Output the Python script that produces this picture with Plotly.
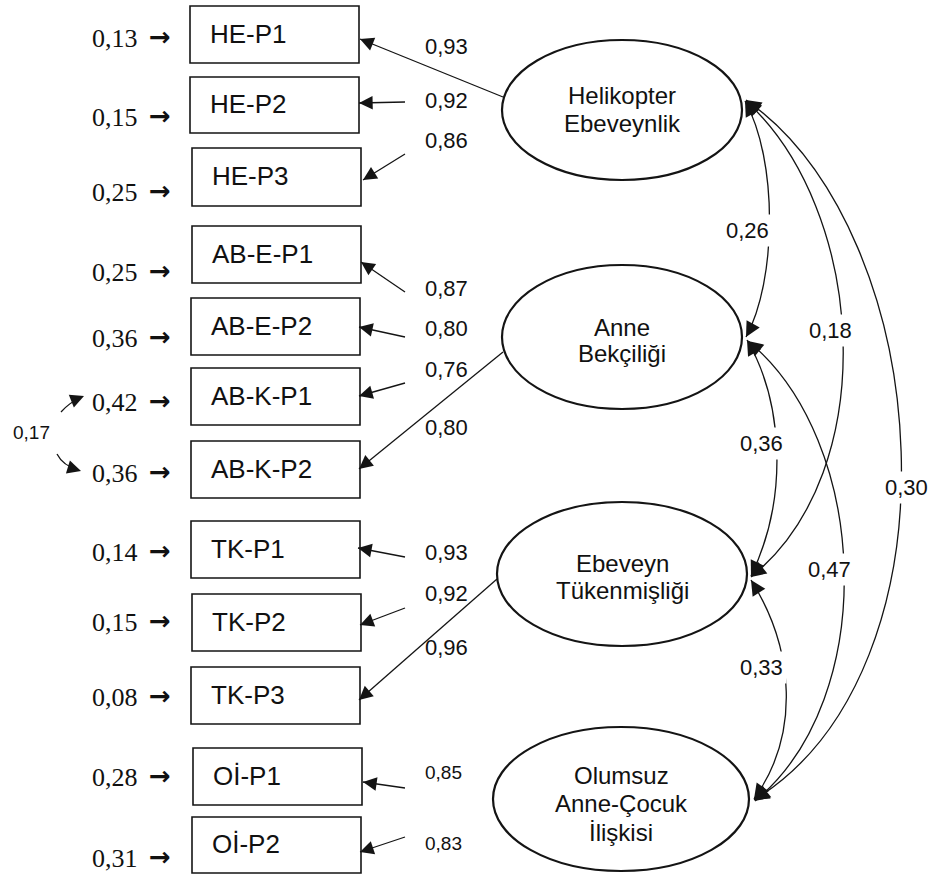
import math
import plotly.graph_objects as go

# ---------------- data ----------------
indicators = ["HE-P1", "HE-P2", "HE-P3", "AB-E-P1", "AB-E-P2", "AB-K-P1", "AB-K-P2",
              "TK-P1", "TK-P2", "TK-P3", "Oİ-P1", "Oİ-P2"]
loadings = [0.93, 0.92, 0.86, 0.87, 0.80, 0.76, 0.80, 0.93, 0.92, 0.96, 0.85, 0.83]
error_vars = [0.13, 0.15, 0.25, 0.25, 0.36, 0.42, 0.36, 0.14, 0.15, 0.08, 0.28, 0.31]
factors = [["Helikopter", "Ebeveynlik"], ["Anne", "Bekçiliği"],
           ["Ebeveyn", "Tükenmişliği"], ["Olumsuz", "Anne-Çocuk", "İlişkisi"]]
corr_pairs = [(0, 1), (0, 2), (0, 3), (1, 2), (1, 3), (2, 3)]
corr_values = [0.26, 0.18, 0.30, 0.36, 0.47, 0.33]
err_cov_value = 0.17


def fmt(v):
    return f"{v:.2f}".replace(".", ",")


# ---------------- layout geometry (pixels) ----------------
W, H = 931, 874
LINE = "#141414"
box_x0 = [190, 190, 192, 192, 191, 191, 191, 191, 192, 191, 193, 192]
box_y = [(6, 63), (77, 133), (148, 206), (226, 283), (298, 355), (368, 425), (441, 498),
         (521, 578), (594, 651), (667, 724), (748, 805), (817, 873)]
box_w = 169
err_label_y = [38, 117, 192, 272, 338, 402, 473, 552, 622, 697, 777, 858]
load_tail = [(503, 97), (405, 102), (405, 154), (405, 292), (405, 337), (405, 383), (503, 352),
             (405, 557), (405, 608), (497, 579), (405, 788), (405, 837)]
load_head = [(360, 39), (359, 103), (363, 180), (361, 262), (359, 327), (359, 396), (359, 469),
             (358, 548), (360, 625), (359, 700), (363, 782), (360, 852)]
load_label_pos = [(446, 46), (446, 100), (446, 140), (446, 288), (446, 328), (446, 369), (446, 427),
                  (446, 552), (446, 593), (446, 647), (443, 772), (443, 843)]
load_label_size = [22] * 10 + [19, 19]

ell_center = [(622, 110), (622, 337), (622, 574), (621, 799)]
ell_r = [(120, 70), (120, 72), (125, 72), (128, 72)]
ell_text_y = [[95, 123], [327, 353], [563, 590], [775, 803, 832]]

# cubic bezier control points for correlation arcs
corr_curves = [
    [(745, 101), (778, 160), (777, 280), (746, 337)],
    [(746, 101), (865, 209), (884, 470), (751, 577)],
    [(746, 100), (937, 234), (966, 670), (754, 800)],
    [(747, 340), (782, 400), (790, 495), (751, 576)],
    [(748, 341), (869, 440), (881, 697), (755, 801)],
    [(751, 580), (795, 650), (800, 735), (754, 799)],
]
corr_label_pos = [(747, 230), (830, 330), (906, 487), (761, 443), (829, 569), (761, 667)]

fig = go.Figure()
fig.add_trace(go.Scatter(x=[0, W], y=[0, H], mode="markers", marker=dict(opacity=0),
                         hoverinfo="skip", showlegend=False))

shapes = []
ann = []


def arrow(head, tail, w=1.3, size=2.1):
    ann.append(dict(x=head[0], y=head[1], ax=tail[0], ay=tail[1], xref="x", yref="y",
                    axref="x", ayref="y", text="", showarrow=True, arrowhead=2,
                    arrowsize=size, arrowwidth=w, arrowcolor=LINE, standoff=0))


def label(x, y, text, size, family="Liberation Sans, Arial, sans-serif", xanchor="center", bg=None):
    d = dict(x=x, y=y, xref="x", yref="y", text=text, showarrow=False, xanchor=xanchor,
             yanchor="middle", font=dict(size=size, family=family, color="#111"))
    if bg:
        d["bgcolor"] = bg
        d["borderpad"] = 3
    ann.append(d)


# indicator boxes
for i, name in enumerate(indicators):
    x0 = box_x0[i]
    y0, y1 = box_y[i]
    shapes.append(dict(type="rect", xref="x", yref="y", x0=x0, x1=x0 + box_w, y0=y0, y1=y1,
                       line=dict(color=LINE, width=1.6), fillcolor="white", layer="below"))
    label(x0 + 18, (y0 + y1) / 2 - 1, name, 26, xanchor="left")
    # error variance with arrow
    label(140, err_label_y[i], fmt(error_vars[i]), 26,
          family="Liberation Serif, Times New Roman, serif", xanchor="right")
    label(160, err_label_y[i] - 1, "<b>\u2192</b>", 26, family="DejaVu Sans, sans-serif")
    # loading arrows
    shapes.append(dict(type="line", xref="x", yref="y", x0=load_tail[i][0], y0=load_tail[i][1],
                       x1=load_head[i][0], y1=load_head[i][1], line=dict(color=LINE, width=1.3)))
    dx = load_tail[i][0] - load_head[i][0]
    dy = load_tail[i][1] - load_head[i][1]
    L = math.hypot(dx, dy)
    arrow(load_head[i], (load_head[i][0] + dx / L * 14, load_head[i][1] + dy / L * 14))
    lx, ly = load_label_pos[i]
    label(lx, ly, fmt(loadings[i]), load_label_size[i])

# latent ellipses
for k, lines in enumerate(factors):
    cx, cy = ell_center[k]
    rx, ry = ell_r[k]
    shapes.append(dict(type="circle", xref="x", yref="y", x0=cx - rx, x1=cx + rx,
                       y0=cy - ry, y1=cy + ry, line=dict(color=LINE, width=2.2),
                       fillcolor="rgba(0,0,0,0)"))
    for j, t in enumerate(lines):
        label(cx, ell_text_y[k][j], t, 24)

# correlation arcs
for c, val in enumerate(corr_values):
    p0, c1, c2, p1 = corr_curves[c]
    path = f"M {p0[0]},{p0[1]} C {c1[0]},{c1[1]} {c2[0]},{c2[1]} {p1[0]},{p1[1]}"
    shapes.append(dict(type="path", xref="x", yref="y", path=path,
                       line=dict(color=LINE, width=1.3)))
    for head, ctrl in ((p0, c1), (p1, c2)):
        dx, dy = ctrl[0] - head[0], ctrl[1] - head[1]
        L = math.hypot(dx, dy)
        arrow(head, (head[0] + dx / L * 14, head[1] + dy / L * 14), size=2.3)
    lx, ly = corr_label_pos[c]
    label(lx, ly, fmt(val), 22, bg="white")

# error covariance between AB-K-P1 and AB-K-P2
shapes.append(dict(type="path", xref="x", yref="y", path="M 61,412 Q 70,402 82,397",
                   line=dict(color=LINE, width=1.3)))
arrow((84, 396), (74, 400))
shapes.append(dict(type="path", xref="x", yref="y", path="M 57,454 Q 63,466 79,470",
                   line=dict(color=LINE, width=1.3)))
arrow((81, 471), (71, 468))
label(31, 432, fmt(err_cov_value), 19)

fig.update_layout(
    width=W, height=H, margin=dict(l=0, r=0, t=0, b=0),
    paper_bgcolor="white", plot_bgcolor="white",
    xaxis=dict(range=[0, W], visible=False, fixedrange=True),
    yaxis=dict(range=[H, 0], visible=False, fixedrange=True),
    shapes=shapes, annotations=ann, showlegend=False,
)
fig.write_html("out.html", config={"displayModeBar": False, "staticPlot": True},
               post_script="document.body.style.margin='0';document.body.style.overflow='hidden';")
